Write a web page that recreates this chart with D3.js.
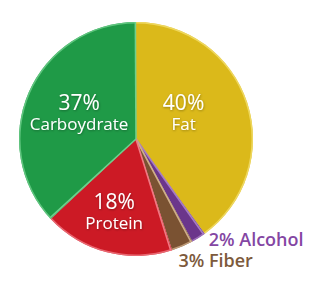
<!DOCTYPE html>
<html>
<head>
<meta charset="utf-8">
<script src="https://cdn.jsdelivr.net/npm/d3@7"></script>
<style>
  html, body { margin: 0; padding: 0; background: #fff; }
  svg { display: block; }
  text { font-family: "Open Sans", Lato, sans-serif; }
</style>
</head>
<body>
<div id="chart"></div>
<script>
// chart data
var names = ["Fat", "Alcohol", "Fiber", "Protein", "Carboydrate"];
var values = [40, 2, 3, 18, 37];
var colors = ["#dbb91a", "#6b368b", "#7a5232", "#cc1a25", "#1f9a47"];
var edgeColors = ["#f3de6e", "#a77cc4", "#cfae8a", "#f07a84", "#6fcf8c"];

var width = 320, height = 301;
var cx = 136, cy = 139, radius = 117;

var svg = d3.select("#chart").append("svg")
  .attr("width", width)
  .attr("height", height);

// soft shadow for the white labels
var defs = svg.append("defs");
var f = defs.append("filter").attr("id", "shadow")
  .attr("x", "-20%").attr("y", "-20%").attr("width", "140%").attr("height", "140%");
f.append("feDropShadow").attr("dx", 0.5).attr("dy", 0.8)
  .attr("stdDeviation", 0.8).attr("flood-color", "#000").attr("flood-opacity", 0.35);

var pie = d3.pie().sort(null).value(function(d) { return d; });
var arcs = pie(values);

var arc = d3.arc().innerRadius(0).outerRadius(radius);

var g = svg.append("g").attr("transform", "translate(" + cx + "," + cy + ")");

g.selectAll("path.slice").data(arcs).enter().append("path")
  .attr("class", "slice")
  .attr("d", arc)
  .attr("fill", function(d, i) { return colors[i]; });

// light rim along the outer edge
g.selectAll("path.rim").data(arcs).enter().append("path")
  .attr("class", "rim")
  .attr("d", d3.arc().innerRadius(radius - 1.5).outerRadius(radius))
  .attr("fill", function(d, i) { return edgeColors[i]; })
  .attr("opacity", 0.8);

// light highlight line along the starting edge of each slice
g.selectAll("line.edge").data(arcs).enter().append("line")
  .attr("class", "edge")
  .attr("x1", 0).attr("y1", 0)
  .attr("x2", function(d) { return radius * Math.sin(d.startAngle + 0.012); })
  .attr("y2", function(d) { return -radius * Math.cos(d.startAngle + 0.012); })
  .attr("stroke", function(d, i) { return i === 0 ? edgeColors[4] : edgeColors[i]; })
  .attr("stroke-width", 1.6)
  .attr("transform", function(d, i) { return i === 0 ? "rotate(-1)" : null; });

// inner labels (big slices), percent and name in one text block
var labelR = { Fat: 50, Carboydrate: 62, Protein: 80 };
var labelShift = { Fat: [0, -11], Carboydrate: [0, -1], Protein: [-2, -4] };
var inner = arcs.filter(function(d) { return values[d.index] > 10; });

var lab = g.selectAll("text.lab").data(inner).enter().append("text")
  .attr("class", "lab")
  .attr("filter", "url(#shadow)")
  .attr("text-anchor", "middle")
  .attr("fill", "#fff")
  .attr("font-weight", 500)
  .attr("transform", function(d) {
    var n = names[d.index];
    var r = labelR[n];
    var c = d3.arc().innerRadius(r).outerRadius(r).centroid(d);
    return "translate(" + (c[0] + labelShift[n][0]) + "," + (c[1] + labelShift[n][1]) + ")";
  });

lab.append("tspan")
  .attr("x", 0)
  .attr("y", -3)
  .attr("font-size", 21)
  .text(function(d) { return d.data + "%"; });

lab.append("tspan")
  .attr("x", 0)
  .attr("y", 17)
  .attr("font-size", 17)
  .text(function(d) { return names[d.index]; });

// outer labels (small slices)
var outerOffset = { Alcohol: [2, -4], Fiber: [-10, 7] };
var textColors = { Alcohol: "#8446a3", Fiber: "#7d5a3c" };
var outer = arcs.filter(function(d) { return values[d.index] <= 10; });

g.selectAll("text.out").data(outer).enter().append("text")
  .attr("class", "out")
  .attr("x", function(d) {
    var c = d3.arc().innerRadius(radius + 15).outerRadius(radius + 15).centroid(d);
    return c[0] + outerOffset[names[d.index]][0];
  })
  .attr("y", function(d) {
    var c = d3.arc().innerRadius(radius + 15).outerRadius(radius + 15).centroid(d);
    return c[1] + outerOffset[names[d.index]][1];
  })
  .attr("fill", function(d) { return textColors[names[d.index]]; })
  .attr("font-size", 18)
  .attr("font-weight", 600)
  .text(function(d) { return d.data + "% " + names[d.index]; });
</script>
</body>
</html>
